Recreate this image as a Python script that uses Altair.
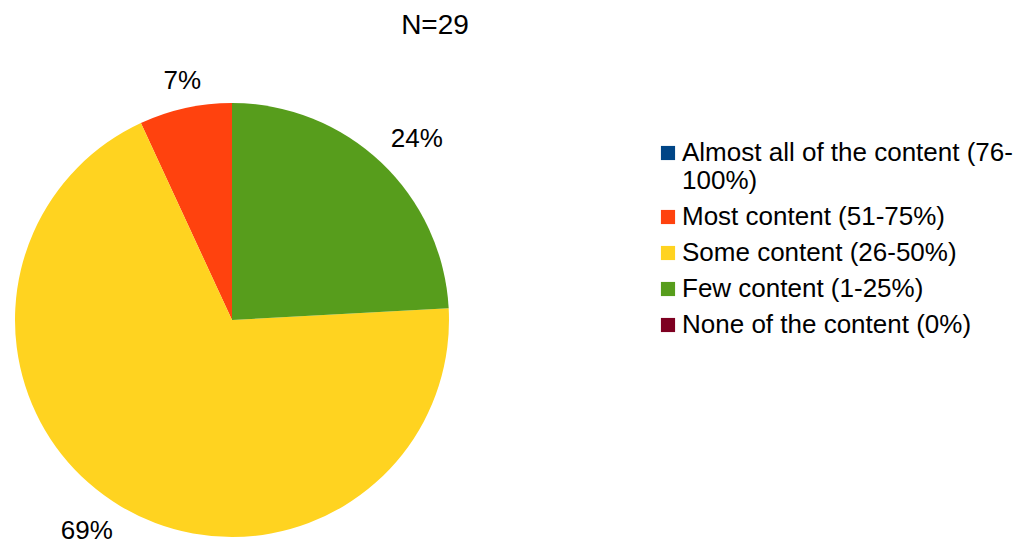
import altair as alt
import pandas as pd

categories = [
    "Almost all of the content (76-100%)",
    "Most content (51-75%)",
    "Some content (26-50%)",
    "Few content (1-25%)",
    "None of the content (0%)",
]
counts = [0, 2, 20, 7, 0]
colors = ["#004586", "#ff420e", "#ffd320", "#579d1c", "#7e0021"]
total = 29

df = pd.DataFrame({
    "category": categories,
    "count": counts,
    "idx": list(range(len(categories))),
})
df["label"] = [f"{round(c / total * 100)}%" for c in counts]

color = alt.Color(
    "category:N",
    scale=alt.Scale(domain=categories, range=colors),
    sort=categories,
    legend=alt.Legend(
        title=None,
        orient="none",
        legendX=647,
        legendY=132,
        symbolType="square",
        symbolSize=200,
        symbolStrokeWidth=0,
        labelFont="Liberation Sans",
        labelFontSize=26,
        labelColor="#000000",
        labelLimit=500,
        rowPadding=10,
        labelOffset=1,
        labelExpr="datum.label == 'Almost all of the content (76-100%)' ? ['Almost all of the content (76-', '100%)'] : datum.label",
        labelBaseline="middle",
    ),
)

base = alt.Chart(df).encode(
    theta=alt.Theta("count:Q", stack=True),
    order=alt.Order("idx:Q", sort="descending"),
)

pie = base.mark_arc(outerRadius=217, stroke=None).encode(
    color=color,
    x=alt.value(224),
    y=alt.value(312),
)

text = base.transform_window(
    cum="sum(count)", sort=[alt.SortField("idx", order="descending")]
).transform_joinaggregate(
    tot="sum(count)"
).transform_calculate(
    ang="2 * PI * (datum.cum - datum.count / 2) / datum.tot"
).transform_calculate(
    al="sin(datum.ang) > 0.3 ? 'left' : (sin(datum.ang) < -0.3 ? 'right' : 'center')",
    bl="cos(datum.ang) > 0 ? 'bottom' : 'top'",
).transform_filter("datum.count > 0").mark_text(
    radius=231,
    font="Liberation Sans",
    fontSize=26,
    color="#000000",
    align=alt.expr("datum.al"),
    baseline=alt.expr("datum.bl"),
).encode(
    text="label:N",
    x=alt.value(224),
    y=alt.value(312),
)

chart = (pie + text).properties(
    width=1006,
    height=531,
    autosize=alt.AutoSizeParams(type="none"),
    padding=0,
    title=alt.TitleParams(
        "N=29",
        font="Liberation Sans",
        fontSize=28,
        fontWeight="normal",
        color="#000000",
        anchor="middle",
        offset=-32,
        dx=-76,
    ),
).configure_view(stroke=None)

chart.save("out.html", embed_options={"renderer": "svg", "actions": False})
